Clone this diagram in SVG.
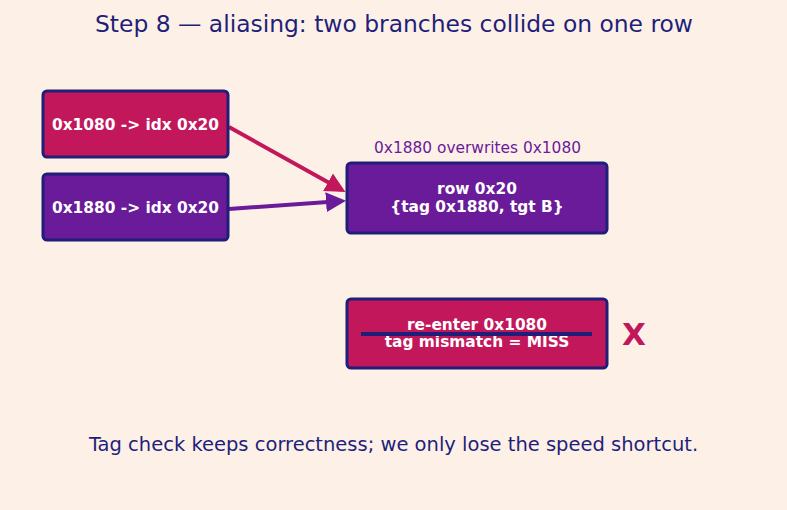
<svg xmlns="http://www.w3.org/2000/svg" width="787" height="510" viewBox="0 0 787 510">
<style>
text{font-family:"DejaVu Sans","Liberation Sans",sans-serif}
.box{stroke:#1f1f7a;stroke-width:3}
.red{fill:#c2185b}
.pur{fill:#6a1b9a}
.lbl{fill:#ffffff;font-weight:bold;font-size:15.4px;text-anchor:middle}
.cap{fill:#1f1f7a;text-anchor:middle}
</style>
<defs>
<marker id="ahR" viewBox="0 0 10 10" refX="8" refY="5" markerWidth="5" markerHeight="5" orient="auto" markerUnits="strokeWidth"><path d="M0,0 L10,5 L0,10 z" fill="#c2185b"/></marker>
<marker id="ahP" viewBox="0 0 10 10" refX="8" refY="5" markerWidth="5" markerHeight="5" orient="auto" markerUnits="strokeWidth"><path d="M0,0 L10,5 L0,10 z" fill="#6a1b9a"/></marker>
</defs>
<rect width="787" height="510" fill="#fdf1e7"/>
<text class="cap" x="394" y="32" font-size="23.4">Step 8 — aliasing: two branches collide on one row</text>
<g id="connectors">
<line x1="229" y1="127" x2="342" y2="190" stroke="#c2185b" stroke-width="4" marker-end="url(#ahR)"/>
<line x1="229" y1="209" x2="342" y2="201" stroke="#6a1b9a" stroke-width="4" marker-end="url(#ahP)"/>
</g>
<g id="n1">
<rect class="box red" x="43" y="91" width="185" height="66" rx="4"/>
<text class="lbl" x="135.5" y="129.5">0x1080 -&gt; idx 0x20</text>
</g>
<g id="n2">
<rect class="box pur" x="43" y="174" width="185" height="66" rx="4"/>
<text class="lbl" x="135.5" y="212.5">0x1880 -&gt; idx 0x20</text>
</g>
<g id="row">
<text x="477.5" y="153" font-size="15.4" fill="#6a1b9a" text-anchor="middle">0x1880 overwrites 0x1080</text>
<rect class="box pur" x="347" y="163" width="260" height="70" rx="4"/>
<text class="lbl" x="477" y="194">row 0x20</text>
<text class="lbl" x="477" y="212">{tag 0x1880, tgt B}</text>
</g>
<g id="miss">
<rect class="box red" x="347" y="299" width="260" height="69" rx="4"/>
<text class="lbl" x="477" y="330">re-enter 0x1080</text>
<text class="lbl" x="477" y="347">tag mismatch = MISS</text>
<line x1="361" y1="334" x2="592" y2="334" stroke="#1f1f7a" stroke-width="4"/>
<text x="634" y="345" font-size="31" font-weight="bold" fill="#c2185b" text-anchor="middle">X</text>
</g>
<text class="cap" x="393.5" y="451" font-size="19.5">Tag check keeps correctness; we only lose the speed shortcut.</text>
</svg>
